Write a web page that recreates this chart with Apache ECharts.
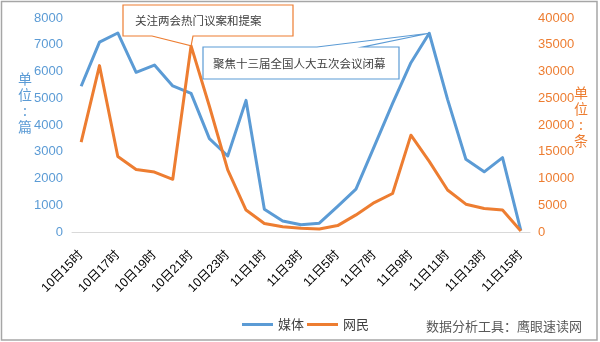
<!DOCTYPE html>
<html>
<head>
<meta charset="utf-8">
<style>
  html, body { margin: 0; padding: 0; background: #fff; }
  #chart { width: 600px; height: 342px; }
</style>
<script src="https://cdn.jsdelivr.net/npm/echarts@6/dist/echarts.min.js"></script>
</head>
<body>
<div id="chart"></div>
<script>
// Hourly categories, 10日15时 through 11日15时
const hours = [
  '10日15时', '10日16时', '10日17时', '10日18时', '10日19时', '10日20时', '10日21时', '10日22时', '10日23时',
  '11日0时', '11日1时', '11日2时', '11日3时', '11日4时', '11日5时', '11日6时', '11日7时', '11日8时',
  '11日9时', '11日10时', '11日11时', '11日12时', '11日13时', '11日14时', '11日15时'
];

// Articles from media (left axis, 篇)
const mediaCounts = [
  5450, 7100, 7440, 5970, 6240, 5460, 5180, 3490, 2840,
  4920, 850, 410, 270, 330, 960, 1600, 3200, 4810,
  6330, 7430, 4960, 2720, 2250, 2780, 50
];

// Posts from netizens (right axis, 条)
const netizenCounts = [
  16800, 31100, 14100, 11700, 11200, 9850, 34800, 23500, 11600,
  4100, 1600, 1000, 700, 560, 1200, 3200, 5500, 7200,
  18100, 13200, 7850, 5200, 4400, 4100, 200
];

const seriesNames = ['媒体', '网民'];
const leftTicks = { min: 0, max: 8000, interval: 1000 };
const rightTicks = { min: 0, max: 40000, interval: 5000 };

// Callout notes: text plus the point each one refers to
const noteHot = { text: '关注两会热门议案和提案', series: 1, index: 6 };
const noteClose = { text: '聚焦十三届全国人大五次会议闭幕', series: 0, index: 19 };

const BLUE = '#5B9BD5';
const ORANGE = '#ED7D31';
const LATIN = '"Liberation Sans", Arial, "Noto Sans CJK SC", sans-serif';
const CJK = '"Noto Sans CJK SC", sans-serif';

const plain = v => String(v);

const chart = echarts.init(document.getElementById('chart'), null, { renderer: 'canvas' });

chart.setOption({
  animation: false,
  backgroundColor: '#fff',
  grid: { left: 72, right: 70, top: 18, bottom: 110, containLabel: false },
  legend: {
    data: seriesNames,
    left: 237,
    top: 313,
    icon: 'rect',
    itemWidth: 31,
    itemHeight: 3,
    itemGap: 3,
    textStyle: { fontFamily: CJK, fontSize: 13, color: '#404040' }
  },
  xAxis: {
    type: 'category',
    data: hours,
    boundaryGap: true,
    axisLine: { show: true, lineStyle: { color: '#d9d9d9', width: 1 } },
    axisTick: { show: false },
    axisLabel: {
      interval: 1,
      rotate: 45,
      margin: 21,
      fontSize: 12.5,
      fontFamily: LATIN,
      color: '#000'
    },
    splitLine: { show: false }
  },
  yAxis: [
    {
      type: 'value',
      min: leftTicks.min, max: leftTicks.max, interval: leftTicks.interval,
      axisLine: { show: false },
      axisTick: { show: false },
      splitLine: { show: false },
      axisLabel: { margin: 9, fontSize: 13, fontFamily: LATIN, color: BLUE, formatter: plain }
    },
    {
      type: 'value',
      min: rightTicks.min, max: rightTicks.max, interval: rightTicks.interval,
      axisLine: { show: false },
      axisTick: { show: false },
      splitLine: { show: false },
      axisLabel: { margin: 8, fontSize: 13, fontFamily: LATIN, color: ORANGE, formatter: plain }
    }
  ],
  series: [
    {
      name: seriesNames[0],
      type: 'line',
      yAxisIndex: 0,
      data: mediaCounts,
      showSymbol: false,
      symbol: 'none',
      lineStyle: { color: BLUE, width: 3, join: 'round' },
      itemStyle: { color: BLUE }
    },
    {
      name: seriesNames[1],
      type: 'line',
      yAxisIndex: 1,
      data: netizenCounts,
      showSymbol: false,
      symbol: 'none',
      lineStyle: { color: ORANGE, width: 3, join: 'round' },
      itemStyle: { color: ORANGE }
    }
  ]
});

// Pixel position of the point a note refers to
function anchorOf(note) {
  const values = note.series === 0 ? mediaCounts : netizenCounts;
  return chart.convertToPixel({ seriesIndex: note.series }, [note.index, values[note.index]]);
}

const tipHot = anchorOf(noteHot);
const tipClose = anchorOf(noteClose);

// Box for the first note, with its pointer leaving from the bottom edge
const hotBox = { x1: 123, y1: 5, x2: 293, y2: 36, w1: 152, w2: 193 };
// Box for the second note, with its pointer leaving from the top edge
const closeBox = { x1: 203, y1: 47, x2: 399, y2: 79, w1: 317, w2: 363 };

chart.setOption({
  graphic: [
    // outer frame
    {
      type: 'rect', silent: true, z: 0,
      shape: { x: 1.5, y: 1.5, width: 595.5, height: 338.5 },
      style: { fill: 'none', stroke: '#a6a6a6', lineWidth: 1.5 }
    },
    {
      type: 'polygon', z: 10,
      shape: {
        points: [
          [hotBox.w1, hotBox.y2], [hotBox.x1, hotBox.y2], [hotBox.x1, hotBox.y1],
          [hotBox.x2, hotBox.y1], [hotBox.x2, hotBox.y2], [hotBox.w2, hotBox.y2],
          [tipHot[0], tipHot[1]]
        ]
      },
      style: { fill: '#fff', stroke: ORANGE, lineWidth: 1.2 }
    },
    {
      type: 'text', z: 11,
      x: 135, y: (hotBox.y1 + hotBox.y2) / 2,
      style: {
        text: noteHot.text, fontFamily: CJK, fontSize: 11.5,
        fill: '#404040', verticalAlign: 'middle', textAlign: 'left'
      }
    },
    {
      type: 'polygon', z: 10,
      shape: {
        points: [
          [closeBox.x1, closeBox.y1], [closeBox.w1, closeBox.y1],
          [tipClose[0], tipClose[1]],
          [closeBox.w2, closeBox.y1], [closeBox.x2, closeBox.y1],
          [closeBox.x2, closeBox.y2], [closeBox.x1, closeBox.y2]
        ]
      },
      style: { fill: '#fff', stroke: BLUE, lineWidth: 1.2 }
    },
    {
      type: 'text', z: 11,
      x: 213, y: (closeBox.y1 + closeBox.y2) / 2 + 1,
      style: {
        text: noteClose.text, fontFamily: CJK, fontSize: 11.5,
        fill: '#404040', verticalAlign: 'middle', textAlign: 'left'
      }
    },
    // axis units, written vertically
    {
      type: 'text', z: 5,
      x: 25, y: 103,
      style: {
        text: '单\n位\n:\n篇', fontFamily: CJK, fontSize: 14, lineHeight: 16,
        fill: BLUE, textAlign: 'center', verticalAlign: 'middle'
      }
    },
    {
      type: 'text', z: 5,
      x: 581, y: 117,
      style: {
        text: '单\n位\n:\n条', fontFamily: CJK, fontSize: 14, lineHeight: 16,
        fill: ORANGE, textAlign: 'center', verticalAlign: 'middle'
      }
    },
    // source note
    {
      type: 'text', z: 5,
      x: 582, y: 326,
      style: {
        text: '数据分析工具：鹰眼速读网', fontFamily: CJK, fontSize: 13,
        fill: '#595959', textAlign: 'right', verticalAlign: 'middle'
      }
    }
  ]
});
</script>
</body>
</html>
